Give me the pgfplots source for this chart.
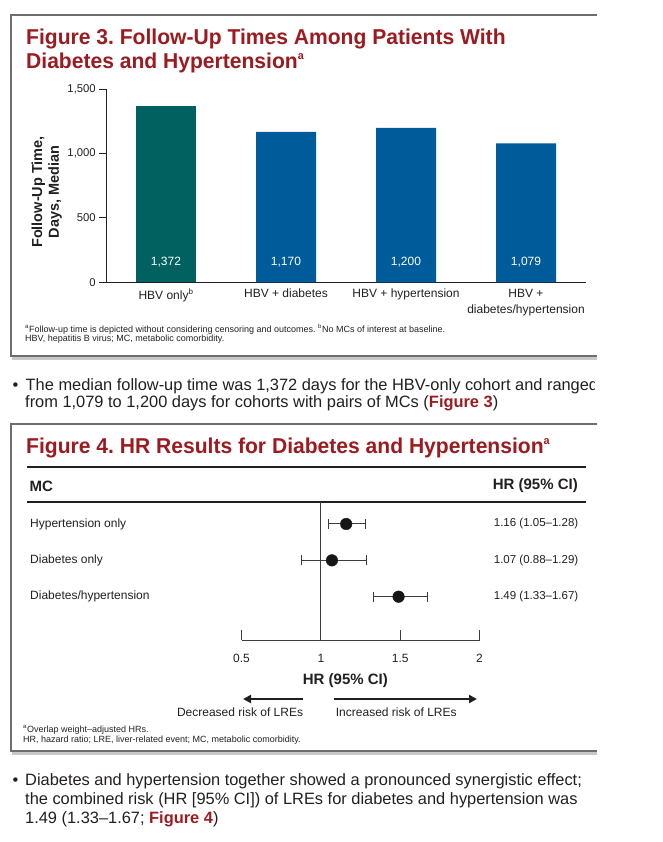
\documentclass[border=0pt]{standalone}
\usepackage{pgfplots}
\pgfplotsset{compat=1.18}
\usepackage{fontspec}
\setmainfont{Liberation Sans}
\newfontfamily\titlefont[FakeStretch=0.98]{Liberation Sans}
\usetikzlibrary{arrows.meta}
\definecolor{figred}{RGB}{155,27,32}
\definecolor{tealbar}{RGB}{0,97,96}
\definecolor{bluebar}{RGB}{0,91,155}
\definecolor{boxgray}{RGB}{109,110,113}
\definecolor{txt}{RGB}{35,31,32}
\definecolor{axgray}{RGB}{60,60,62}
\definecolor{dotblack}{RGB}{22,22,24}
\definecolor{shadowgray}{RGB}{200,200,202}
\newcommand{\fsz}[2]{\fontsize{#1pt}{#2pt}\selectfont}
\newcommand{\titlesup}[1]{\raisebox{8.5pt}{\fsz{11}{11}#1}}
\frenchspacing
\begin{document}
\frenchspacing
\begin{tikzpicture}
\useasboundingbox (0pt,0pt) rectangle (662pt,-842pt);
\begin{scope}[x=1pt,y=-1pt]
% ---------- Box 1 ----------
\draw[shadowgray, line width=3pt] (12,358.8) -- (597,358.8);
\draw[boxgray, line width=2pt] (597,15) -- (10.7,15) -- (10.7,356) -- (597,356);
\node[anchor=base west, inner sep=0, text=figred, font=\titlefont\fsz{21.5}{24}\bfseries] at (26,45) {Figure 3. Follow-Up Times Among Patients With};
\node[anchor=base west, inner sep=0, text=figred, font=\titlefont\fsz{21.5}{24}\bfseries] at (26,68.3) {Diabetes and Hypertension\titlesup{a}};
\node[anchor=west, inner sep=0, text=txt, font=\fsz{9}{10}] at (25,329) {\textsuperscript{a}Follow-up time is depicted without considering censoring and outcomes. \textsuperscript{b}No MCs of interest at baseline.};
\node[anchor=west, inner sep=0, text=txt, font=\fsz{9}{10}] at (25,339.3) {HBV, hepatitis B virus; MC, metabolic comorbidity.};
% ---------- Bullet 1 ----------
\begin{scope}
\clip (0,360) rectangle (594,420);
\node[anchor=base west, inner sep=0, text=txt, font=\fsz{16.4}{18}] at (12.5,390) {•};
\node[anchor=base west, inner sep=0, text=txt, font=\fsz{16.4}{18}] at (25.5,390) {The median follow-up time was 1,372 days for the HBV-only cohort and ranged};
\node[anchor=base west, inner sep=0, text=txt, font=\fsz{16.4}{18}] at (25,407.7) {from 1,079 to 1,200 days for cohorts with pairs of MCs ({\color{figred}\bfseries Figure 3})};
\end{scope}
% ---------- Box 2 ----------
\draw[shadowgray, line width=3pt] (12,753.5) -- (597,753.5);
\draw[boxgray, line width=2pt] (597,424.3) -- (10.7,424.3) -- (10.7,750.7) -- (597,750.7);
\node[anchor=base west, inner sep=0, text=figred, font=\titlefont\fsz{21.5}{24}\bfseries] at (26,453) {Figure 4. HR Results for Diabetes and Hypertension\titlesup{a}};
\draw[txt, line width=2pt] (27.4,467) -- (585.5,467);
\draw[txt, line width=2pt] (27.4,502) -- (585.5,502);
\node[anchor=west, inner sep=0, text=txt, font=\fsz{15}{17}\bfseries] at (29.5,486) {MC};
\node[anchor=east, inner sep=0, text=txt, font=\fsz{15}{17}\bfseries] at (578,486) {HR (95\% CI)};
\node[anchor=west, inner sep=0, text=txt, font=\fsz{12}{14}] at (30,524) {Hypertension only};
\node[anchor=west, inner sep=0, text=txt, font=\fsz{12}{14}] at (30,560.4) {Diabetes only};
\node[anchor=west, inner sep=0, text=txt, font=\fsz{12}{14}] at (30,596.7) {Diabetes/hypertension};
\node[anchor=west, inner sep=0, text=txt, font=\fsz{11.5}{14}] at (493.7,524) {1.16 (1.05–1.28)};
\node[anchor=west, inner sep=0, text=txt, font=\fsz{11.5}{14}] at (493.7,560.4) {1.07 (0.88–1.29)};
\node[anchor=west, inner sep=0, text=txt, font=\fsz{11.5}{14}] at (493.7,596.7) {1.49 (1.33–1.67)};
\node[anchor=center, inner sep=0, text=txt, font=\fsz{15}{17}\bfseries] at (345.4,681) {HR (95\% CI)};
\draw[txt, line width=2.5pt, -{Triangle[length=8pt,width=8pt]}] (303,699) -- (243,699);
\draw[txt, line width=2.5pt, -{Triangle[length=8pt,width=8pt]}] (333.6,699) -- (477,699);
\node[anchor=east, inner sep=0, text=txt, font=\fsz{12}{14}] at (303.3,712) {Decreased risk of LREs};
\node[anchor=west, inner sep=0, text=txt, font=\fsz{12}{14}] at (335.7,712) {Increased risk of LREs};
\node[anchor=west, inner sep=0, text=txt, font=\fsz{9}{10}] at (23,729.5) {\textsuperscript{a}Overlap weight–adjusted HRs.};
\node[anchor=west, inner sep=0, text=txt, font=\fsz{9}{10}] at (23,740.5) {HR, hazard ratio; LRE, liver-related event; MC, metabolic comorbidity.};
% ---------- Bullet 2 ----------
\node[anchor=base west, inner sep=0, text=txt, font=\fsz{16.4}{18}] at (12.5,785.7) {•};
\node[anchor=base west, inner sep=0, text=txt, font=\fsz{16.4}{18}] at (25,785.7) {Diabetes and hypertension together showed a pronounced synergistic effect;};
\node[anchor=base west, inner sep=0, text=txt, font=\fsz{16.4}{18}] at (25,804.4) {the combined risk (HR [95\% CI]) of LREs for diabetes and hypertension was};
\node[anchor=base west, inner sep=0, text=txt, font=\fsz{16.4}{18}] at (25,823) {1.49 (1.33–1.67; {\color{figred}\bfseries Figure 4})};
\end{scope}
% ---------- Figure 3 bar chart ----------
\begin{axis}[
  at={(106pt,-282.3pt)}, anchor=south west,
  scale only axis, width=480pt, height=193pt,
  xmin=-0.5, xmax=3.5, ymin=0, ymax=1500,
  axis x line=bottom, axis y line=left,
  axis line style={-, line width=1pt, color=txt},
  ytick={0,500,1000,1500},
  tick align=outside, major tick length=6.7pt,
  y tick style={line width=1pt, color=txt},
  xtick={0,1,2,3}, x tick style={draw=none},
  xticklabels={HBV only\textsuperscript{b}, HBV + diabetes, HBV + hypertension, {HBV +\\diabetes/hypertension}},
  xticklabel style={align=center, font=\fsz{12}{16}, text=txt, yshift=3.5pt},
  yticklabel style={font=\fsz{11.3}{13}, text=txt},
  /pgf/number format/assume math mode=true,
  /pgf/number format/1000 sep={,},
  ylabel={Follow-Up Time,\\Days, Median},
  every axis y label/.style={at={(axis description cs:-0.1235,0.468)}, rotate=90, anchor=center, align=center, font=\fsz{14.5}{16.7}\bfseries, text=txt},
  clip=false,
]
\addplot[ybar, bar width=60pt, bar shift=0pt, fill=tealbar, draw=none] coordinates {(0,1372)};
\addplot[ybar, bar width=60pt, bar shift=0pt, fill=bluebar, draw=none] coordinates {(1,1170) (2,1200) (3,1079)};
\addplot[draw=none, mark=none, nodes near coords, point meta=explicit,
  every node near coord/.style={anchor=center, text=white, font=\fsz{12}{14}}]
  coordinates {(0,160) [1372] (1,160) [1170] (2,160) [1200] (3,160) [1079]};
\end{axis}
% ---------- Figure 4 forest plot ----------
\begin{axis}[
  at={(241.5pt,-640pt)}, anchor=south west,
  scale only axis, width=238pt, height=138.3pt,
  xmin=0.5, xmax=2, ymin=-0.191, ymax=3.613,
  axis x line=bottom, axis y line=none,
  axis line style={-, line width=1pt, color=axgray},
  xtick={0.5,1,1.5,2},
  tick align=inside, major tick length=10pt,
  x tick style={line width=1pt, color=axgray},
  xticklabel style={font=\fsz{12}{14}, text=txt, yshift=-11pt},
  /pgf/number format/assume math mode=true,
  clip=false,
]
\addplot[axgray, line width=1pt, mark=none] coordinates {(1,-0.191) (1,3.613)};
\addplot[only marks, mark=*, mark size=5.8pt, color=dotblack,
  error bars/.cd, x dir=both, x explicit,
  error bar style={line width=1pt, color=axgray},
  error mark options={rotate=90, mark size=5pt, line width=1pt, color=axgray}]
  coordinates {
  (1.16,3) += (0.12,0) -= (0.11,0)
  (1.07,2) += (0.22,0) -= (0.19,0)
  (1.49,1) += (0.18,0) -= (0.16,0)
  };
\end{axis}
\end{tikzpicture}
\end{document}
